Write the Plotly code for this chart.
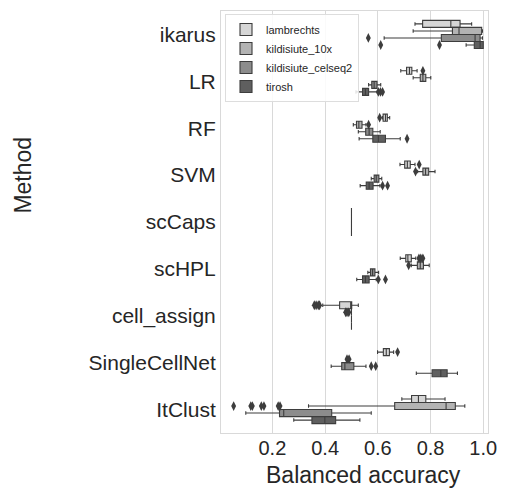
import plotly.graph_objects as go

# Methods (top to bottom) and datasets (hue order)
methods = ["ikarus", "LR", "RF", "SVM", "scCaps", "scHPL", "cell_assign",
           "SingleCellNet", "ItClust"]
datasets = ["lambrechts", "kildisiute_10x", "kildisiute_celseq2", "tirosh"]

# Box statistics of balanced accuracy per dataset, in method order
lower = {
    "lambrechts":         [0.741, 0.687, 0.618, 0.684, 0.5, 0.685, 0.391, 0.599, 0.691],
    "kildisiute_10x":     [0.734, 0.734, 0.507, 0.751, 0.5, 0.727, 0.500, 0.487, 0.337],
    "kildisiute_celseq2": [0.624, 0.565, 0.526, 0.575, 0.5, 0.562, 0.500, 0.423, 0.099],
    "tirosh":             [0.935, 0.517, 0.529, 0.533, 0.5, 0.520, 0.500, 0.746, 0.281],
}
q1 = {
    "lambrechts":         [0.770, 0.709, 0.620, 0.702, 0.5, 0.706, 0.455, 0.621, 0.728],
    "kildisiute_10x":     [0.883, 0.761, 0.519, 0.771, 0.5, 0.750, 0.500, 0.487, 0.664],
    "kildisiute_celseq2": [0.841, 0.577, 0.554, 0.586, 0.5, 0.572, 0.500, 0.463, 0.227],
    "tirosh":             [0.966, 0.542, 0.581, 0.556, 0.5, 0.542, 0.500, 0.806, 0.350],
}
median = {
    "lambrechts":         [0.877, 0.720, 0.629, 0.712, 0.5, 0.714, 0.497, 0.632, 0.754],
    "kildisiute_10x":     [0.908, 0.771, 0.528, 0.781, 0.5, 0.761, 0.500, 0.487, 0.859],
    "kildisiute_celseq2": [0.969, 0.586, 0.567, 0.594, 0.5, 0.580, 0.500, 0.475, 0.243],
    "tirosh":             [0.988, 0.553, 0.602, 0.567, 0.5, 0.553, 0.500, 0.839, 0.399],
}
q3 = {
    "lambrechts":         [0.912, 0.729, 0.636, 0.723, 0.5, 0.727, 0.501, 0.644, 0.782],
    "kildisiute_10x":     [0.994, 0.782, 0.540, 0.793, 0.5, 0.773, 0.500, 0.487, 0.894],
    "kildisiute_celseq2": [0.988, 0.597, 0.581, 0.604, 0.5, 0.589, 0.500, 0.509, 0.425],
    "tirosh":             [1.000, 0.565, 0.629, 0.582, 0.5, 0.567, 0.500, 0.863, 0.440],
}
upper = {
    "lambrechts":         [0.956, 0.749, 0.645, 0.741, 0.5, 0.744, 0.526, 0.660, 0.855],
    "kildisiute_10x":     [0.997, 0.801, 0.555, 0.817, 0.5, 0.795, 0.500, 0.487, 0.930],
    "kildisiute_celseq2": [0.997, 0.611, 0.609, 0.615, 0.5, 0.603, 0.500, 0.555, 0.575],
    "tirosh":             [1.000, 0.598, 0.685, 0.608, 0.5, 0.594, 0.500, 0.902, 0.532],
}

# Outlying points: method and value
outlier_method = {
    "lambrechts": ["LR", "RF", "SVM", "scHPL", "scHPL", "scHPL", "cell_assign",
                   "cell_assign", "cell_assign", "cell_assign", "SingleCellNet"],
    "kildisiute_10x": ["RF", "SVM", "scHPL", "cell_assign", "cell_assign",
                       "cell_assign", "SingleCellNet", "SingleCellNet", "ItClust",
                       "ItClust", "ItClust", "ItClust", "ItClust", "ItClust",
                       "ItClust"],
    "kildisiute_celseq2": ["ikarus", "SingleCellNet", "SingleCellNet"],
    "tirosh": ["ikarus", "ikarus", "LR", "LR", "LR", "RF", "SVM", "SVM",
               "scHPL", "scHPL"],
}
outlier_value = {
    "lambrechts": [0.771, 0.607, 0.757, 0.756, 0.763, 0.771, 0.359, 0.366,
                   0.374, 0.379, 0.675],
    "kildisiute_10x": [0.565, 0.743, 0.717, 0.478, 0.483, 0.490, 0.483, 0.491,
                       0.053, 0.118, 0.124, 0.158, 0.168, 0.222, 0.229],
    "kildisiute_celseq2": [0.564, 0.575, 0.592],
    "tirosh": [0.611, 0.834, 0.602, 0.610, 0.618, 0.711, 0.618, 0.637, 0.602,
               0.629],
}

fill_colors = ["#d6d6d6", "#b3b3b3", "#8c8c8c", "#5f5f5f"]
edge_color = "#3d3d3d"
grid_color = "#d9d9d9"
text_color = "#262626"
font_family = "Liberation Sans, Arial, sans-serif"

fig = go.Figure()

for name, fill in zip(datasets, fill_colors):
    fig.add_trace(go.Box(
        name=name,
        y=methods,
        q1=q1[name],
        median=median[name],
        q3=q3[name],
        lowerfence=lower[name],
        upperfence=upper[name],
        orientation="h",
        offsetgroup=name,
        alignmentgroup="acc",
        fillcolor=fill,
        line=dict(color=edge_color, width=1.1),
        whiskerwidth=0.5,
        boxpoints=False,
        hoverinfo="skip",
    ))

for name in datasets:
    fig.add_trace(go.Scatter(
        x=outlier_value[name],
        y=outlier_method[name],
        mode="markers",
        orientation="h",
        offsetgroup=name,
        alignmentgroup="acc",
        marker=dict(symbol="diamond-tall", size=7, color=edge_color,
                    line=dict(width=0)),
        showlegend=False,
        hoverinfo="skip",
    ))

fig.update_layout(
    width=507,
    height=492,
    margin=dict(l=221, r=10, t=10, b=59),
    paper_bgcolor="white",
    plot_bgcolor="white",
    boxmode="group",
    boxgap=0.4,
    boxgroupgap=0,
    scattermode="group",
    scattergap=0.4,
    font=dict(family=font_family, color=text_color),
    showlegend=True,
    legend=dict(
        x=0.015, y=0.993, xanchor="left", yanchor="top",
        bgcolor="rgba(255,255,255,0.85)",
        bordercolor="#dddddd", borderwidth=1,
        font=dict(size=11, color=text_color),
        tracegroupgap=0,
        itemwidth=30,
    ),
    xaxis=dict(
        range=[0.005, 1.018],
        tick0=0, dtick=0.2,
        tickformat=".1f",
        showgrid=True, gridcolor=grid_color, gridwidth=1,
        zeroline=False,
        showline=True, linecolor=grid_color, linewidth=1, mirror=True,
        ticks="",
        ticklabelstandoff=-3,
        tickfont=dict(size=20, color=text_color),
    ),
    yaxis=dict(
        type="category",
        categoryorder="array", categoryarray=methods,
        autorange="reversed",
        showgrid=False,
        zeroline=False,
        showline=True, linecolor=grid_color, linewidth=1, mirror=True,
        ticks="",
        tickfont=dict(size=21, color=text_color),
    ),
    annotations=[
        dict(text="Balanced accuracy", xref="paper", yref="paper",
             x=0.535, y=-0.1, xanchor="center", yanchor="middle",
             showarrow=False, font=dict(size=23, color=text_color)),
        dict(text="Method", xref="paper", yref="paper",
             x=-0.742, y=0.612, xanchor="center", yanchor="middle",
             textangle=-90, showarrow=False,
             font=dict(size=23, color=text_color)),
    ],
)

fig.write_html("out.html")
